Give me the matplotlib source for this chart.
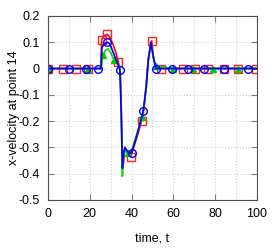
import matplotlib
matplotlib.use('Agg')
import matplotlib.pyplot as plt
import numpy as np

# red squares
t_red = [0, 7.2, 13.4, 19.3, 25.3, 25.7, 27, 28.4, 29.5, 31, 32.5, 33.6, 34.5, 35.0, 35.5, 36.0, 36.8, 38, 39.6, 41, 43, 44.8, 46, 47, 48, 49.6, 50.5, 51.5, 53.9, 58, 64.4, 70.3, 76.7, 84.2, 91, 99.5, 100]
v_red = [0, 0, 0, 0, 0, 0.11, 0.125, 0.13, 0.12, 0.095, 0.06, 0.025, 0.0, -0.12, -0.3, -0.37, -0.305, -0.32, -0.335, -0.3, -0.25, -0.2, -0.15, -0.06, 0.04, 0.105, 0.04, 0.0, 0, 0, 0, 0, 0, 0, 0, 0, 0]
m_red = [0, 1, 2, 3, 5, 7, 11, 18, 21, 25, 28, 30, 31, 32, 33, 34, 35]

# green triangles
t_grn = [0, 19.3, 25.5, 26.2, 27.5, 28.8, 30, 31.6, 33, 34.5, 35.0, 35.6, 36.2, 37, 38.4, 40, 42, 45.1, 47, 48, 49.2, 50.5, 51.5, 60, 69.5, 79, 91, 100]
v_grn = [0, 0, 0, 0.05, 0.07, 0.075, 0.06, 0.033, 0.02, 0.005, -0.15, -0.41, -0.33, -0.31, -0.32, -0.315, -0.26, -0.185, -0.08, 0.03, 0.095, 0.04, 0.01, 0, 0, 0, 0, 0]
m_grn = [0, 1, 3, 7, 14, 17, 22, 23, 24, 25, 26]

# blue circles
t_blu = [0, 10.2, 18, 23.8, 25.4, 25.8, 27, 28.4, 29.5, 31, 33, 34.4, 35.0, 35.6, 36.2, 36.8, 38.5, 40, 42, 44, 45.6, 47, 48, 49.2, 50.5, 51.7, 59.2, 66.8, 74.8, 84.4, 95.8, 100]
v_blu = [0, 0, 0, 0, 0, 0.08, 0.095, 0.1, 0.095, 0.065, 0.025, -0.005, -0.15, -0.38, -0.32, -0.3, -0.32, -0.32, -0.27, -0.21, -0.16, -0.07, 0.03, 0.1, 0.04, 0, 0, 0, 0, 0, 0, 0]
m_blu = [0, 1, 2, 3, 7, 11, 17, 20, 25, 26, 27, 28, 29, 30]

plt.rcParams['font.family'] = ['Liberation Sans', 'DejaVu Sans']
plt.rcParams['font.size'] = 9

fig = plt.figure(figsize=(2.74, 2.49), dpi=100)
ax = fig.add_axes([0.175, 0.197, 0.763, 0.739])

ax.plot(t_red, v_red, color='#ff0000', lw=1.2, marker='s', ms=6, mfc='none', mec='#ff2020', mew=1.0, markevery=m_red)
ax.plot(t_grn, v_grn, color='#00dd00', lw=1.2, marker='^', ms=5, mfc='#00cc00', mec='#00cc00', markevery=m_grn)
ax.plot(t_blu, v_blu, color='#0000ff', lw=1.2, marker='o', ms=5.5, mfc='none', mec='#0000ff', mew=1.0, markevery=m_blu)

ax.set_xlim(0, 100)
ax.set_ylim(-0.5, 0.2)
ax.set_xticks(np.arange(0, 101, 20))
ax.set_xticks(np.arange(0, 101, 10), minor=True)
ax.set_yticks(np.arange(-0.5, 0.21, 0.1))
ax.set_yticklabels(['-0.5', '-0.4', '-0.3', '-0.2', '-0.1', '0', '0.1', '0.2'])
ax.grid(True, which='both', color='#d0d0d0', ls=':', lw=0.8)
ax.tick_params(which='both', direction='in', top=True, right=True, color='#808080')
ax.tick_params(which='major', length=4)
ax.tick_params(which='minor', length=0)
ax.tick_params(axis='x', pad=6)
ax.tick_params(axis='y', pad=6)
for s in ax.spines.values():
    s.set_color('#505050')
    s.set_linewidth(0.8)

ax.set_xlabel('time, t', labelpad=9)
ax.set_ylabel('x-velocity at point 14', labelpad=-1)

fig.savefig('out.png', dpi=100)
